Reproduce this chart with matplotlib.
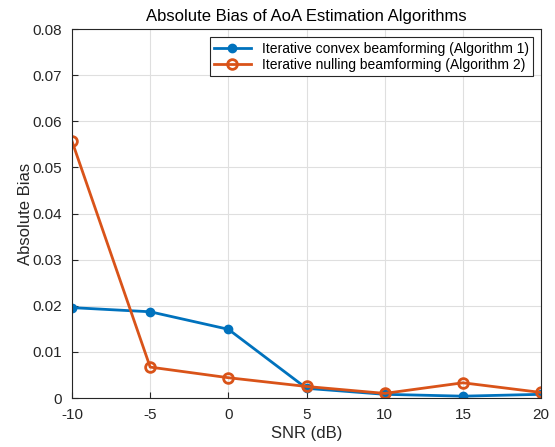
import matplotlib
matplotlib.use("Agg")
import matplotlib.pyplot as plt

snr = [-10, -5, 0, 5, 10, 15, 20]
alg1 = [0.0196, 0.0187, 0.0149, 0.0021, 0.0008, 0.0004, 0.0008]
alg2 = [0.0557, 0.0067, 0.0044, 0.0025, 0.0010, 0.0033, 0.0012]
label1 = "Iterative convex beamforming (Algorithm 1)"
label2 = "Iterative nulling beamforming (Algorithm 2)"

plt.rcParams['font.family'] = ['Liberation Sans', 'DejaVu Sans']
fig = plt.figure(figsize=(5.55, 4.47), dpi=100)
ax = fig.add_axes([0.1297, 0.1096, 0.8453, 0.8254])

ax.plot(snr, alg1, '-o', color='#0072BD', lw=2, ms=6, mfc='#0072BD', label=label1)
ax.plot(snr, alg2, '-o', color='#D95319', lw=2, ms=7, mfc='none', mew=2, label=label2)

ax.set_xlim(-10, 20)
ax.set_ylim(0, 0.08)
ax.set_xticks(snr)
ax.set_xticklabels([str(v) for v in snr])
ax.set_yticks([0, 0.01, 0.02, 0.03, 0.04, 0.05, 0.06, 0.07, 0.08])
ax.set_yticklabels(['0', '0.01', '0.02', '0.03', '0.04', '0.05', '0.06', '0.07', '0.08'])
ax.grid(True, color='#DFDFDF', lw=0.8)
ax.set_axisbelow(True)
for s in ax.spines.values():
    s.set_color('#262626')
    s.set_linewidth(0.8)
ax.tick_params(colors='#262626', labelsize=11, direction='in', length=4)
ax.tick_params(axis='x', pad=7)
ax.tick_params(axis='y', pad=7)
ax.set_xlabel('SNR (dB)', fontsize=12, color='#262626', labelpad=3)
ax.set_ylabel('Absolute Bias', fontsize=12, color='#262626', labelpad=0)
ax.set_title('Absolute Bias of AoA Estimation Algorithms', fontsize=12, color='#000000')
leg = ax.legend(loc='upper right', fontsize=10, frameon=True, fancybox=False,
                edgecolor='#262626', framealpha=1, borderaxespad=0.6, handlelength=2.6,
                borderpad=0.3, labelspacing=0.2)
leg.get_frame().set_linewidth(0.8)
fig.savefig('out.png', dpi=100)
